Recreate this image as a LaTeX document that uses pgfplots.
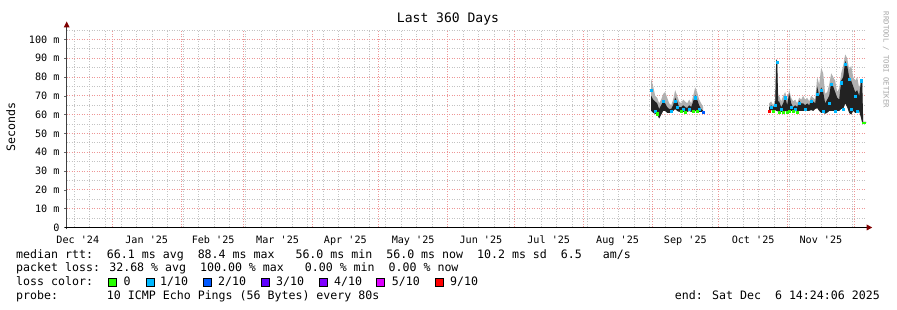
\documentclass[border=0pt]{standalone}
\usepackage{fontspec}
\usepackage{pgfplots}
\pgfplotsset{compat=1.18}
\usepackage{pgfplotstable}
\usepgfplotslibrary{fillbetween}
\newfontfamily\mono{DejaVu Sans Mono}
\definecolor{majg}{RGB}{238,150,150}
\definecolor{ming}{RGB}{195,195,195}
\definecolor{arrowred}{RGB}{128,0,0}
\definecolor{lz}{HTML}{26FF00}
\definecolor{la}{HTML}{00B8FF}
\definecolor{lb}{HTML}{0059FF}
\definecolor{lc}{HTML}{5E00FF}
\definecolor{ld}{HTML}{7E00FF}
\definecolor{le}{HTML}{DD00FF}
\definecolor{lf}{HTML}{FF0000}
\definecolor{smoke}{HTML}{B0B0B0}
\definecolor{dark}{HTML}{222222}

\pgfplotstableread{
d top hi lo
263.01 79 70 62
263.91 75 68 61
264.81 70 67 60.5
265.71 69 66 60
266.61 66 63 58
267.51 68 65 60
268.41 71 67 62
269.31 72 66 62
270.21 69 64 61
271.11 66 63 61
272.01 65 63 61
272.91 68 65 62
273.81 73 69 63
274.71 70 67 62
275.61 67 64 61.5
276.51 66 64 62
277.41 68 65 61.5
278.31 67 64 61.5
279.21 66 63.5 61.5
280.11 68 65 62
281.01 66 64 61.5
281.91 70 67 62
282.81 74.5 70.5 62
283.71 72 68 61.5
284.61 68 65 61.5
285.51 66 63 61.5
286.41 64 62 61.5
}\segA

\pgfplotstableread{
d top hi lo
316.12 66 64 62
317.02 67 65 62.5
317.92 65 64 62
318.82 68 66 62.5
319.27 89.5 89 62
319.72 89 88.5 62
320.17 70 67 61.5
320.62 70 67 61.5
321.52 67 64 61.5
322.42 70 66 61.5
323.32 72 69.5 62
324.22 68 65 61.5
325.12 73 71.5 62
326.02 69 66 62
326.92 67 64 62
327.82 68 65 62
328.72 66 64 61.5
329.62 69 67.5 62
330.52 68 66 62
331.42 70 66 62
332.32 68 65 62
333.22 69 66 62
334.12 67 65 62
335.02 70 68 62.5
335.92 69 67 62
336.82 68 66 63
337.72 80 75 63.5
338.62 76 70 62
339.52 85 74.5 61
340.42 82 72 61
341.32 71 66 60.5
342.22 72 68 61
343.12 76 70 62
344.02 82 77 62
344.92 80 75 62
345.82 78 72 62
346.72 72 69 62
347.62 74 68 62
348.52 82 78 63
349.42 86 80 63
350.32 92 88.5 66
351.22 90 86 64
352.12 84 80 61
353.02 86 78 60
353.92 80 75 62
354.82 78 72 61
355.72 80 73 61
356.62 74 70 62
357.52 79 78.5 58
357.97 78.5 78 55.6
358.42 56.3 56 55.6
359.77 56.3 56 55.6
}\segB

\begin{document}
\begin{tikzpicture}
\begin{axis}[
  at={(0,0)}, anchor=south west,
  scale only axis, width=800pt, height=197.5pt,
  xmin=0, xmax=360, ymin=0, ymax=105,
  set layers,
  axis line style={draw=none},
  xtick pos=bottom, ytick pos=left,
  xtick={5,36,65.9,94.9,125.4,155.9,186.4,216.9,247.9,278.4,308.9,339.4},
  xticklabels={Dec '24,Jan '25,Feb '25,Mar '25,Apr '25,May '25,Jun '25,Jul '25,Aug '25,Sep '25,Oct '25,Nov '25},
  xmajorgrids=false,
  x tick style={draw=none},
  extra x ticks={20.4,51.4,79.4,110.4,140.4,171.4,201.4,232.4,263.4,293.4,324.4,354.4},
  extra x tick labels={},
  extra x tick style={xmajorgrids=true, major tick length=2.5pt, tick style={draw=majg, line width=0.8pt}, tick align=outside},
  minor xtick={3.4,10.4,...,358},
  xminorgrids=true,
  minor x tick style={draw=ming},
  ytick={0,10,...,100},
  yticklabels={0,10 m,20 m,30 m,40 m,50 m,60 m,70 m,80 m,90 m,100 m},
  minor ytick={5,15,...,105},
  ymajorgrids=true, yminorgrids=true,
  y tick style={draw=black!60, line width=0.6pt},
  major tick length=2.5pt, minor tick length=0pt,
  tick align=outside,
  major grid style={draw=majg, line width=0.8pt, dash pattern=on 1pt off 1.5pt},
  minor grid style={draw=ming, line width=0.8pt, dash pattern=on 1pt off 1.5pt},
  xticklabel style={font=\mono\fontsize{10.15}{12}\selectfont, anchor=base, inner sep=0pt, yshift=-13.5pt},
  yticklabel style={font=\mono\fontsize{10.15}{12}\selectfont, anchor=east, inner sep=0pt, xshift=-4.5pt},
  clip=true,
]
% segment 1
\addplot[name path=atop, draw=none, forget plot] table[x=d,y=top]{\segA};
\addplot[name path=ahi, draw=none, forget plot] table[x=d,y=hi]{\segA};
\addplot[name path=alo, draw=none, forget plot] table[x=d,y=lo]{\segA};
\addplot[smoke, draw=none, forget plot] fill between[of=atop and alo];
\addplot[dark, draw=none, forget plot] fill between[of=ahi and alo];
% segment 2
\addplot[name path=btop, draw=none, forget plot] table[x=d,y=top]{\segB};
\addplot[name path=bhi, draw=none, forget plot] table[x=d,y=hi]{\segB};
\addplot[name path=blo, draw=none, forget plot] table[x=d,y=lo]{\segB};
\addplot[smoke, draw=none, forget plot] fill between[of=btop and blo];
\addplot[dark, draw=none, forget plot] fill between[of=bhi and blo];
% median loss colours
\addplot[la, only marks, mark=square*, mark size=1.1pt, mark options={draw=la, fill=la}] coordinates {
(263.01,73) (264.81,62) (268.41,67) (272.01,62) (273.81,67) (274.71,64) (277.41,63) (280.11,63) (282.81,69) (284.61,63)
(317.02,64) (318.82,65) (319.72,88) (321.52,63) (323.32,69) (326.02,64) (327.82,63) (329.62,66) (332.32,63) (335.02,67)
(337.72,71) (339.52,73) (340.42,62) (343.12,66) (344.02,76) (345.82,62) (348.52,77) (349.42,63) (350.32,87) (352.12,79)
(353.02,63) (354.82,70) (355.72,62) (357.52,78)};
\addplot[lz, only marks, mark=square*, mark size=1.1pt, mark options={draw=lz, fill=lz}] coordinates {
(265.71,60.5) (276.51,62) (278.31,61.5) (281.91,62) (283.71,62)
(317.92,62) (320.62,61.5) (322.42,61.5) (324.22,61.5) (325.12,62) (326.92,62) (328.72,61.5)};
\addplot[lb, only marks, mark=square*, mark size=1.1pt, mark options={draw=lb, fill=lb}] coordinates {(286.41,61.5)};
\addplot[lf, only marks, mark=square*, mark size=1.1pt, mark options={draw=lf, fill=lf}] coordinates {(316.12,62)};
\addplot[lz, line width=2pt] coordinates {(357.97,55.6) (359.77,55.6)};
\end{axis}
% axes
\draw[black!75, line width=0.8pt] (0,-2pt) -- (0,201pt);
\fill[arrowred] (-3pt,200pt) -- (3pt,200pt) -- (0,206pt) -- cycle;
\draw[black, line width=0.8pt] (-2pt,0) -- (801pt,0);
\fill[arrowred] (800pt,-3pt) -- (800pt,3pt) -- (805.5pt,0) -- cycle;
% title, unit, watermark
\node[font=\mono\fontsize{13.05}{15}\selectfont, anchor=base, inner sep=0pt] at (381.3pt,204.5pt) {Last 360 Days};
\node[font=\mono\fontsize{11.6}{14}\selectfont, rotate=90, inner sep=0pt] at (-56pt,100.5pt) {Seconds};
\node[font=\mono\fontsize{7.25}{9}\selectfont, text=black!35, rotate=-90, inner sep=0pt] at (819.3pt,167.5pt) {RRDTOOL / TOBI OETIKER};
% legend
\begin{scope}[every node/.style={font=\mono\fontsize{11.6}{14}\selectfont, anchor=base west, inner sep=0pt}]
\node at (-50.7pt,-30.8pt) {median rtt:~~66.1 ms avg~~88.4 ms max~~~56.0 ms min~~56.0 ms now~~10.2 ms sd~~6.5~~~am/s};
\node at (-50.7pt,-44.5pt) {packet loss: 32.68 \% avg~~100.00 \% max~~~0.00 \% min~~0.00 \% now};
\node at (-50.7pt,-58.5pt) {loss color:};
\node at (-50.7pt,-72.5pt) {probe:~~~~~~~10 ICMP Echo Pings (56 Bytes) every 80s};
\node[anchor=base east] at (813.3pt,-72.5pt) {end: Sat Dec~~6 14:24:06 2025};
\foreach \sx/\tx/\col/\lab in {41.3/56.6/lz/0, 79.3/93.3/la/1\slash 10, 136.3/151.3/lb/2\slash 10, 195/209.3/lc/3\slash 10, 252.3/267.3/ld/4\slash 10, 310/325/le/5\slash 10, 368.3/383.3/lf/9\slash 10}{
  \filldraw[fill=\col, draw=black, line width=0.6pt] (\sx pt,-58.8pt) rectangle ++(8pt,8pt);
  \node at (\tx pt,-58.5pt) {\lab};
}
\end{scope}
\pgfresetboundingbox
\path (-66.7pt,-82.5pt) rectangle (830.3pt,227.5pt);
\end{tikzpicture}
\end{document}
